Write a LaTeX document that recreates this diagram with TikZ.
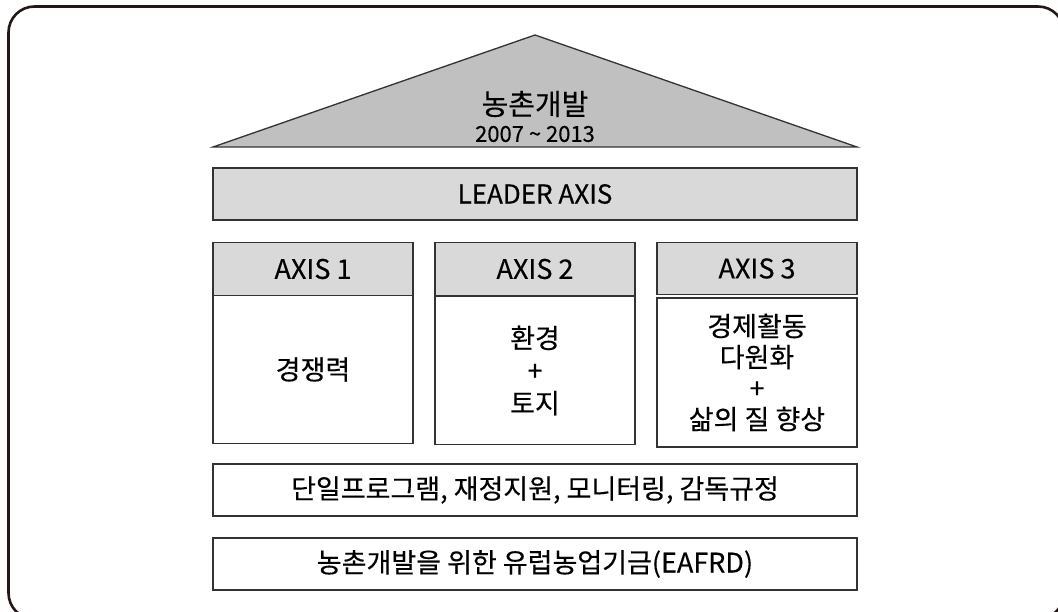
\documentclass[tikz,border=0pt]{standalone}
\usepackage{fontspec}
\newfontfamily\kr[FakeBold=0.3]{Noto Sans CJK KR}
\definecolor{trifill}{HTML}{C0C0C0}
\definecolor{hdrfill}{HTML}{D9D9D9}
\definecolor{edge}{HTML}{333333}
\definecolor{framec}{HTML}{231815}
\begin{document}
\begin{tikzpicture}[x=1pt,y=-1pt,
  box/.style={draw=edge, line width=1.3pt, inner sep=0pt, align=center,
    font=\kr\fontsize{27}{31}\selectfont, text=black},
  hdr/.style={box, fill=hdrfill},
  body/.style={box, fill=white}]
\useasboundingbox (0,0) rectangle (1058,612);
\begin{scope}
\clip (0,0) rectangle (1058,612);
\draw[line width=2.6pt, rounded corners=26pt, draw=framec] (8.5,6.5) rectangle (1064,619);
\end{scope}
% roof
\coordinate (apex) at (535,35);
\coordinate (bl) at (213,147);
\coordinate (br) at (857,147);
\filldraw[fill=trifill, draw=edge, line width=1.3pt, line join=miter] (bl) -- (apex) -- (br) -- cycle;
\node[font=\kr\fontsize{29}{32}\selectfont, text=black] (title) at (535,104) {농촌개발};
\node[font=\kr\fontsize{22}{24}\selectfont, text=black] (years) at (535,134) {2007 \textasciitilde{} 2013};
% leader
\node[hdr, minimum width=644pt, minimum height=52pt, font=\kr\fontsize{26}{30}\selectfont] (leader) at (535,194) {LEADER AXIS};
% axis headers
\node[hdr, minimum width=200pt, minimum height=53pt] (h1) at (313,269) {AXIS 1};
\node[hdr, minimum width=200pt, minimum height=53pt] (h2) at (535,269) {AXIS 2};
\node[hdr, minimum width=200pt, minimum height=52pt] (h3) at (757,268.5) {AXIS 3};
% axis bodies
\node[body, minimum width=200pt, minimum height=148pt] (b1) at (313,369.5) {경쟁력};
\node[body, minimum width=200pt, minimum height=148pt, font=\kr\fontsize{27}{32.5}\selectfont] (b2) at (535,370.5) {환경\\+\\토지};
\node[body, minimum width=200pt, minimum height=149pt] (b3) at (757,372.5) {경제활동\\다원화\\+\\삶의 질 향상};
% bottom bars
\node[body, minimum width=644pt, minimum height=52pt] (prog) at (535,490) {단일프로그램, 재정지원, 모니터링, 감독규정};
\node[body, minimum width=644pt, minimum height=52pt] (fund) at (535,564) {농촌개발을 위한 유럽농업기금(EAFRD)};
\end{tikzpicture}
\end{document}
